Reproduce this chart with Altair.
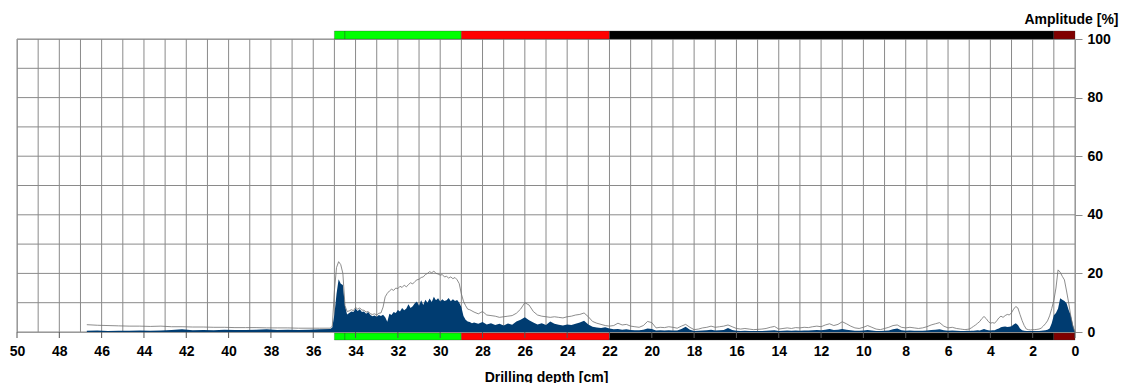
import altair as alt
import pandas as pd

# ---------------- data ----------------
def seg(start, stop, step):
    n = int(round((start - stop) / step)) + 1
    return [round(start - i * step, 2) for i in range(n)]

depth = seg(46.7, 35.2, 0.5) + seg(35.1, 28.5, 0.1) + seg(28.4, 22.0, 0.2) + seg(21.8, 5.6, 0.2) + seg(5.4, 0.0, 0.1)

amp_s1 = [0.4, 0.5, 0.3, 0.4, 0.4, 0.5, 0.4, 0.5, 0.7, 0.9, 0.6, 0.7, 0.6, 0.8, 0.7, 0.7, 0.8, 0.9, 0.7, 0.8, 0.7, 0.8, 0.9, 1.0]
env_s1 = [2.5, 2.3, 2.2, 2.1, 2.0, 2.0, 1.9, 2.0, 1.8, 1.8, 1.7, 1.7, 1.6, 1.6, 1.5, 1.5, 1.5, 1.4, 1.4, 1.4, 1.3, 1.3, 1.3, 1.3]

amp_s2 = [1.5, 6, 13, 18, 16.5, 16, 9, 6, 6.5, 7, 6.8, 8, 7.2, 7.8, 6.8, 7, 6.2, 6.8, 5.8, 5.4,
          5.6, 5.2, 5.8, 5.5, 5.9, 5.0, 3.5, 6.2, 5.8, 6.8, 6.5, 7.5, 7.0, 8.2, 7.4, 8.0, 9.5, 8.2, 8.8, 9.8,
          10.4, 9.0, 10.8, 9.2, 11.0, 10.0, 11.4, 10.2, 12.0, 10.8, 11.5, 10.4, 11.2, 10.6, 10.8, 11.6, 10.5, 11.2, 10.6, 10.9,
          10.0, 8.5, 5.5, 4.2, 3.6, 3.4, 3.0]
env_s2 = [2.0, 14, 22, 24, 23, 20, 9, 7, 7.2, 7.6, 7.3, 8.4, 7.8, 8.2, 7.5, 7.4, 6.8, 7.0, 6.2, 6.0,
          6.2, 5.8, 6.4, 6.5, 8.5, 12.0, 13.2, 14.0, 14.6, 14.2, 15.0, 14.8, 15.6, 15.2, 16.0, 15.4, 16.2, 16.8, 16.4, 17.2,
          17.8, 18.0, 18.6, 18.8, 19.6, 20.0, 20.6, 20.2, 20.8, 20.0, 19.8, 19.4, 19.6, 18.8, 19.0, 18.4, 18.8, 18.2, 18.6, 17.8,
          16.5, 13.0, 10.5, 9.0, 7.8, 7.6, 7.2]

amp_s3 = [3.2, 2.8, 3.4, 2.6, 3.0, 2.4, 2.8, 2.2, 2.9, 2.5, 3.6, 4.2, 5.0, 4.0, 3.2, 2.6, 3.0, 2.4, 3.6, 2.8,
          2.5, 2.2, 2.6, 2.4, 2.8, 3.2, 3.8, 2.6, 1.8, 1.5, 1.4, 1.6, 1.2]
env_s3 = [6.8, 6.2, 7.0, 5.8, 5.6, 5.4, 5.0, 5.2, 5.4, 5.6, 6.4, 7.8, 10.0, 9.2, 7.0, 5.8, 5.4, 5.2, 5.0, 5.2,
          5.0, 4.8, 5.2, 5.4, 5.8, 6.0, 6.5, 5.2, 3.6, 3.0, 2.6, 2.2, 2.0]

amp_s4 = [0.9, 1.0, 0.8, 0.9, 0.7, 0.6, 0.6, 0.8, 1.2, 1.0, 0.5, 0.6, 0.5, 0.6, 0.5, 0.5, 1.0, 1.8, 0.8, 0.3,
          0.4, 0.5, 0.6, 0.8, 0.5, 0.6, 0.7, 1.4, 0.7, 0.4, 0.3, 0.4, 0.3, 0.3, 0.3, 0.3, 0.4, 0.5, 0.6, 0.3,
          0.4, 0.5, 0.4, 0.5, 0.4, 0.5, 0.5, 0.6, 0.7, 0.6, 0.8, 1.0, 0.7, 0.8, 1.0, 0.8, 0.6, 0.4, 0.4, 0.5,
          0.7, 0.5, 0.3, 0.3, 0.4, 0.5, 0.9, 1.2, 0.6, 0.4, 0.5, 0.4, 0.4, 0.4, 0.5, 0.7, 0.8, 0.9, 0.6, 0.4,
          0.5, 0.4]
env_s4 = [2.2, 3.0, 2.4, 2.6, 2.0, 1.8, 1.6, 2.2, 3.6, 3.2, 1.4, 1.6, 1.5, 1.8, 1.6, 1.3, 2.0, 2.6, 1.6, 0.8,
          1.0, 1.4, 1.6, 2.0, 1.6, 1.8, 2.0, 2.4, 1.8, 1.2, 1.0, 1.2, 1.0, 0.8, 0.9, 1.0, 1.2, 1.6, 1.9, 1.0,
          1.2, 1.4, 1.2, 1.5, 1.4, 1.6, 1.5, 1.8, 2.0, 1.8, 2.4, 2.8, 2.2, 2.6, 3.5, 2.8, 2.0, 1.4, 1.2, 1.6,
          2.2, 1.6, 1.0, 0.8, 1.2, 1.6, 2.2, 2.4, 1.6, 1.4, 1.6, 1.4, 1.2, 1.4, 1.8, 2.4, 2.8, 3.2, 2.0, 1.4,
          1.6, 1.2]

amp_s5 = [0.3, 0.3, 0.3, 0.4, 0.3, 0.4, 0.4, 0.5, 0.6, 0.5, 0.8, 1.0, 0.8, 0.6, 0.5, 0.6, 0.6, 0.9, 1.2, 1.6,
          1.8, 1.9, 1.7, 1.8, 2.0, 2.6, 3.0, 2.4, 1.2, 0.6, 0.4, 0.3, 0.3, 0.3, 0.3, 0.3, 0.3, 0.3, 0.4, 0.5,
          0.6, 0.8, 1.2, 3.0, 5.7, 6.5, 8.0, 11.5, 11.0, 10.6, 9.8, 7.5, 5.7, 2.5, 0.0]
env_s5 = [1.0, 0.9, 0.8, 0.9, 1.0, 1.4, 1.9, 2.4, 3.0, 3.6, 4.6, 5.3, 4.6, 3.6, 3.0, 3.2, 3.0, 3.8, 4.8, 5.4,
          5.0, 5.6, 6.0, 5.8, 6.6, 7.8, 8.7, 8.2, 6.0, 3.9, 2.2, 1.0, 0.8, 0.7, 0.8, 0.8, 0.9, 1.0, 1.3, 2.0,
          2.8, 3.8, 5.5, 8.0, 10.8, 15.0, 21.2, 20.4, 19.0, 17.8, 14.0, 10.0, 5.5, 2.0, 0.0]

amplitude = amp_s1 + amp_s2 + amp_s3 + amp_s4 + amp_s5
envelope = env_s1 + env_s2 + env_s3 + env_s4 + env_s5
assert len(depth) == len(amplitude) == len(envelope), (len(depth), len(amplitude), len(envelope))

band_start = [35.0, 34.5, 29.0, 22.0, 1.0]
band_end = [34.5, 29.0, 22.0, 1.0, 0.0]
band_color = ["#00ff00", "#00ff00", "#ff0000", "#000000", "#800000"]

x_labels = list(range(0, 51, 2))
y_labels = list(range(0, 101, 20))
x_grid = list(range(0, 51, 1))
y_grid = list(range(0, 101, 10))

# ---------------- chart ----------------
W, H = 1058, 293
FONT = "Liberation Sans"
GRID = "#8a8a8a"

df = pd.DataFrame({"depth": depth, "amp": amplitude, "env": envelope})
bands = pd.DataFrame({"s": band_start, "e": band_end, "c": band_color})
xticks = pd.DataFrame({"t": x_labels})
xg = pd.DataFrame({"g": x_grid})
yg = pd.DataFrame({"g": y_grid})

xscale = alt.Scale(domain=[0, 50], reverse=True, nice=False, zero=False)
yscale = alt.Scale(domain=[0, 100], nice=False)

xaxis = alt.Axis(
    values=x_labels, grid=False, ticks=False, domain=False,
    labelOverlap=False, labelFlush=False, labelFont=FONT, labelFontSize=14, labelFontWeight="bold",
    labelColor="#000", labelPadding=12,
    title="Drilling depth [cm]", titleFont=FONT, titleFontSize=14, titleFontWeight="bold",
    titleColor="#000", titleBaseline="alphabetic", titleY=49,
)
yaxis = alt.Axis(
    orient="right", values=y_labels, grid=False, domain=False,
    tickSize=7, tickColor=GRID,
    labelOverlap=False, labelFlush=False, labelFont=FONT, labelFontSize=14, labelFontWeight="bold",
    labelColor="#000", labelPadding=5, labelBaseline="middle",
    title="Amplitude [%]", titleFont=FONT, titleFontSize=14, titleFontWeight="bold",
    titleColor="#000", titleAngle=0, titleAlign="right", titleBaseline="alphabetic",
    titleX=43, titleY=-16,
)

vgrid = alt.Chart(xg).mark_rule(color=GRID, strokeWidth=1).encode(
    x=alt.X("g:Q", scale=xscale, axis=xaxis),
)
hgrid = alt.Chart(yg).mark_rule(color=GRID, strokeWidth=1).encode(
    y=alt.Y("g:Q", scale=yscale, axis=yaxis),
)
area = alt.Chart(df).mark_area(color="#003c71", interpolate="linear").encode(
    x=alt.X("depth:Q", scale=xscale),
    y=alt.Y("amp:Q", scale=yscale),
)
line = alt.Chart(df).mark_line(color="#707070", strokeWidth=0.8).encode(
    x=alt.X("depth:Q", scale=xscale),
    y=alt.Y("env:Q", scale=yscale),
)
top_band = alt.Chart(bands).mark_rect(stroke="#333", strokeWidth=0.5, strokeOpacity=0.6).encode(
    x=alt.X("s:Q", scale=xscale), x2="e:Q",
    y=alt.value(-8), y2=alt.value(0),
    color=alt.Color("c:N", scale=None),
)
bottom_band = alt.Chart(bands).mark_rect(stroke="#333", strokeWidth=0.5, strokeOpacity=0.6).encode(
    x=alt.X("s:Q", scale=xscale), x2="e:Q",
    y=alt.value(H + 1), y2=alt.value(H + 8),
    color=alt.Color("c:N", scale=None),
)
tick_rules = alt.Chart(xticks).mark_rule(color="#555", strokeWidth=1).encode(
    x=alt.X("t:Q", scale=xscale),
    y=alt.value(H), y2=alt.value(H + 6),
)

chart = alt.layer(vgrid, hgrid, area, line, top_band, bottom_band, tick_rules).properties(
    width=W, height=H,
    autosize=alt.AutoSizeParams(type="none"),
    padding={"left": 9, "top": 31, "right": 48, "bottom": 51},
).configure_view(stroke="#aaa")

chart.save("out.html", embed_options={"renderer": "svg", "actions": False})
